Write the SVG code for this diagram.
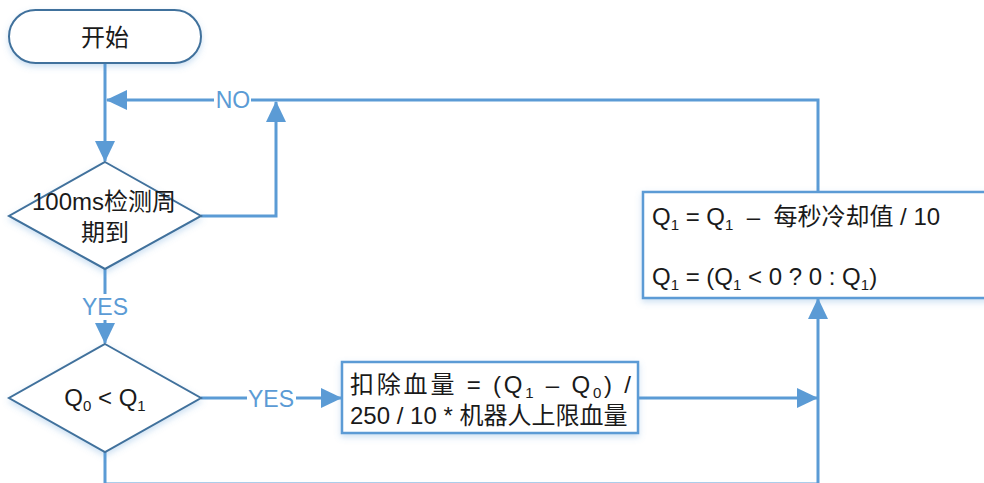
<svg xmlns="http://www.w3.org/2000/svg" width="984" height="483" viewBox="0 0 984 483">
<style>
text{font-family:"Liberation Sans","Noto Sans CJK SC",sans-serif;font-size:24px;fill:#1a1a1a}
.lbl{fill:#5B9BD5;font-size:23px}
.dark{fill:#fff;stroke:#41719C;stroke-width:2}
.box{fill:#fff;stroke:#5B9BD5;stroke-width:2.5}
.con{fill:none;stroke:#5B9BD5;stroke-width:3}
.sub{font-size:15px}
</style>
<defs>
<marker id="ah" markerUnits="userSpaceOnUse" markerWidth="21" markerHeight="20" refX="20" refY="10" orient="auto">
<path d="M0,0 L21,10 L0,20 Z" fill="#5B9BD5"/>
</marker>
<filter id="sh" x="-10%" y="-10%" width="120%" height="130%">
<feDropShadow dx="0" dy="3" stdDeviation="3" flood-color="#5B9BD5" flood-opacity="0.3"/>
</filter>
</defs>
<rect width="984" height="483" fill="#fff"/>
<g id="connectors">
<path class="con" d="M105,63 V161" marker-end="url(#ah)"/>
<path class="con" d="M818,192 V100 H107" marker-end="url(#ah)"/>
<path class="con" d="M201,216 H276 V102" marker-end="url(#ah)"/>
<path class="con" d="M105,269 V343" marker-end="url(#ah)"/>
<path class="con" d="M201,398 H341" marker-end="url(#ah)"/>
<path class="con" d="M639,398 H817" marker-end="url(#ah)"/>
<path class="con" d="M105,452 V484 H818 V299" marker-end="url(#ah)"/>
<rect x="214" y="88" width="37" height="24" fill="#fff"/>
<text class="lbl" x="233" y="108" text-anchor="middle">NO</text>
<rect x="82" y="294" width="47" height="26" fill="#fff"/>
<text class="lbl" x="105" y="315" text-anchor="middle">YES</text>
<rect x="247" y="386" width="49" height="26" fill="#fff"/>
<text class="lbl" x="271" y="407" text-anchor="middle">YES</text>
</g>
<g id="start">
<rect class="dark" x="9" y="10" width="192" height="53" rx="26.5" filter="url(#sh)"/>
<text x="105" y="46" text-anchor="middle">开始</text>
</g>
<g id="check">
<polygon class="dark" points="105,162 201,216 105,269 9,216" filter="url(#sh)"/>
<text x="104" y="210" text-anchor="middle">100ms检测周</text>
<text x="105" y="241" text-anchor="middle">期到</text>
</g>
<g id="compare">
<polygon class="dark" points="105,344 201,398 105,452 9,398" filter="url(#sh)"/>
<text x="105" y="406" text-anchor="middle">Q<tspan class="sub" dy="5">0</tspan><tspan dy="-5"> &lt; Q</tspan><tspan class="sub" dy="5">1</tspan></text>
</g>
<g id="deduct">
<rect class="box" x="342" y="362" width="296" height="71" filter="url(#sh)"/>
<text x="350" y="393" textLength="281" lengthAdjust="spacing">扣除血量 = (Q<tspan class="sub" dy="5">1</tspan><tspan dy="-5"> – Q</tspan><tspan class="sub" dy="5">0</tspan><tspan dy="-5">) /</tspan></text>
<text x="350" y="424">250 / 10 * 机器人上限血量</text>
</g>
<g id="cool">
<rect class="box" x="643" y="192" width="360" height="106" filter="url(#sh)"/>
<text x="652" y="225">Q<tspan class="sub" dy="5">1</tspan><tspan dy="-5"> = Q</tspan><tspan class="sub" dy="5">1</tspan><tspan dy="-5" xml:space="preserve">  –  每秒冷却值 / 10</tspan></text>
<text x="652" y="285">Q<tspan class="sub" dy="5">1</tspan><tspan dy="-5"> = (Q</tspan><tspan class="sub" dy="5">1</tspan><tspan dy="-5"> &lt; 0 ? 0 : Q</tspan><tspan class="sub" dy="5">1</tspan><tspan dy="-5">)</tspan></text>
</g>
</svg>
